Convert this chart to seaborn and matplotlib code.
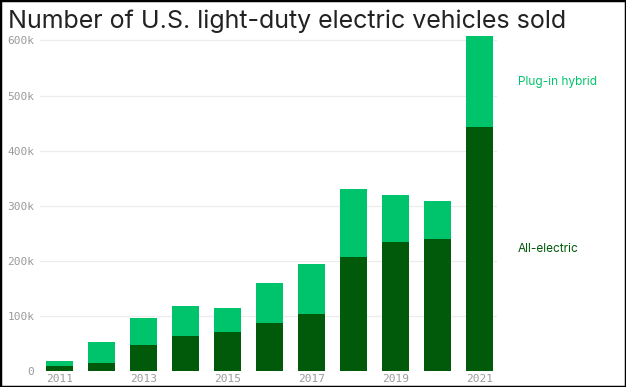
import matplotlib
matplotlib.use("Agg")
import matplotlib.pyplot as plt
import pandas as pd
import seaborn as sns
from matplotlib.patches import Rectangle

# values (thousands of vehicles)
years = [2011, 2012, 2013, 2014, 2015, 2016, 2017, 2018, 2019, 2020, 2021]
all_electric = [9.8, 14.5, 47.5, 63.5, 71, 86.5, 103.5, 206, 233.5, 239, 443]
plug_in = [7.5, 38.5, 49, 55, 42.5, 72.5, 91, 124, 86, 69, 164.5]
tick_years = [2011, 2013, 2015, 2017, 2019, 2021]
y_ticks = [0, 100, 200, 300, 400, 500, 600]
y_labels = ["0", "100k", "200k", "300k", "400k", "500k", "600k"]

light = "#00c46b"
dark = "#005a09"

df = pd.DataFrame({"year": [str(y) for y in years],
                   "bev": all_electric, "phev": plug_in})
df["total"] = df["bev"] + df["phev"]

sns.set_style("white")
plt.rcParams["font.family"] = ["Inter", "DejaVu Sans"]

fig = plt.figure(figsize=(6.26, 3.87), dpi=100)
ax = fig.add_axes([40 / 626, 1 - 371 / 387, 457 / 626, 336 / 387])

sns.barplot(data=df, x="year", y="total", color=light, width=0.63,
            saturation=1, linewidth=0, ax=ax, zorder=3)
sns.barplot(data=df, x="year", y="bev", color=dark, width=0.63,
            saturation=1, linewidth=0, ax=ax, zorder=3)

ax.set_xlim(-0.46, 10.42)
ax.set_ylim(0, 336 / 55.1 * 100)
ax.set(xlabel="", ylabel="")
for s in ax.spines.values():
    s.set_visible(False)

ax.set_yticks(y_ticks)
ax.set_yticklabels(y_labels, family="DejaVu Sans Mono", fontsize=8, color="#9a9a9a")
ax.yaxis.grid(True, color="#ececec", linewidth=0.9, zorder=0)
ax.set_axisbelow(True)
ax.tick_params(axis="y", length=0, pad=4)

pos = [years.index(y) for y in tick_years]
ax.set_xticks(pos)
ax.set_xticklabels([str(y) for y in tick_years], family="DejaVu Sans Mono",
                   fontsize=8, color="#9a9a9a")
ax.tick_params(axis="x", length=0, pad=2)

last = len(years) - 1
ax.text(10.92, all_electric[last] + plug_in[last] / 2, "Plug-in hybrid",
        color=light, fontsize=8.5, va="center", ha="left", clip_on=False)
ax.text(10.92, all_electric[last] / 2, "All-electric",
        color=dark, fontsize=8.5, va="center", ha="left", clip_on=False)

fig.text(8 / 626, 1 - 28 / 387, "Number of U.S. light-duty electric vehicles sold",
         fontsize=18, color="#222222", ha="left", va="baseline")

fig.patches.append(Rectangle((0, 0), 1, 1, transform=fig.transFigure,
                             fill=False, edgecolor="black", linewidth=2.5))

fig.savefig("out.png", dpi=100)
